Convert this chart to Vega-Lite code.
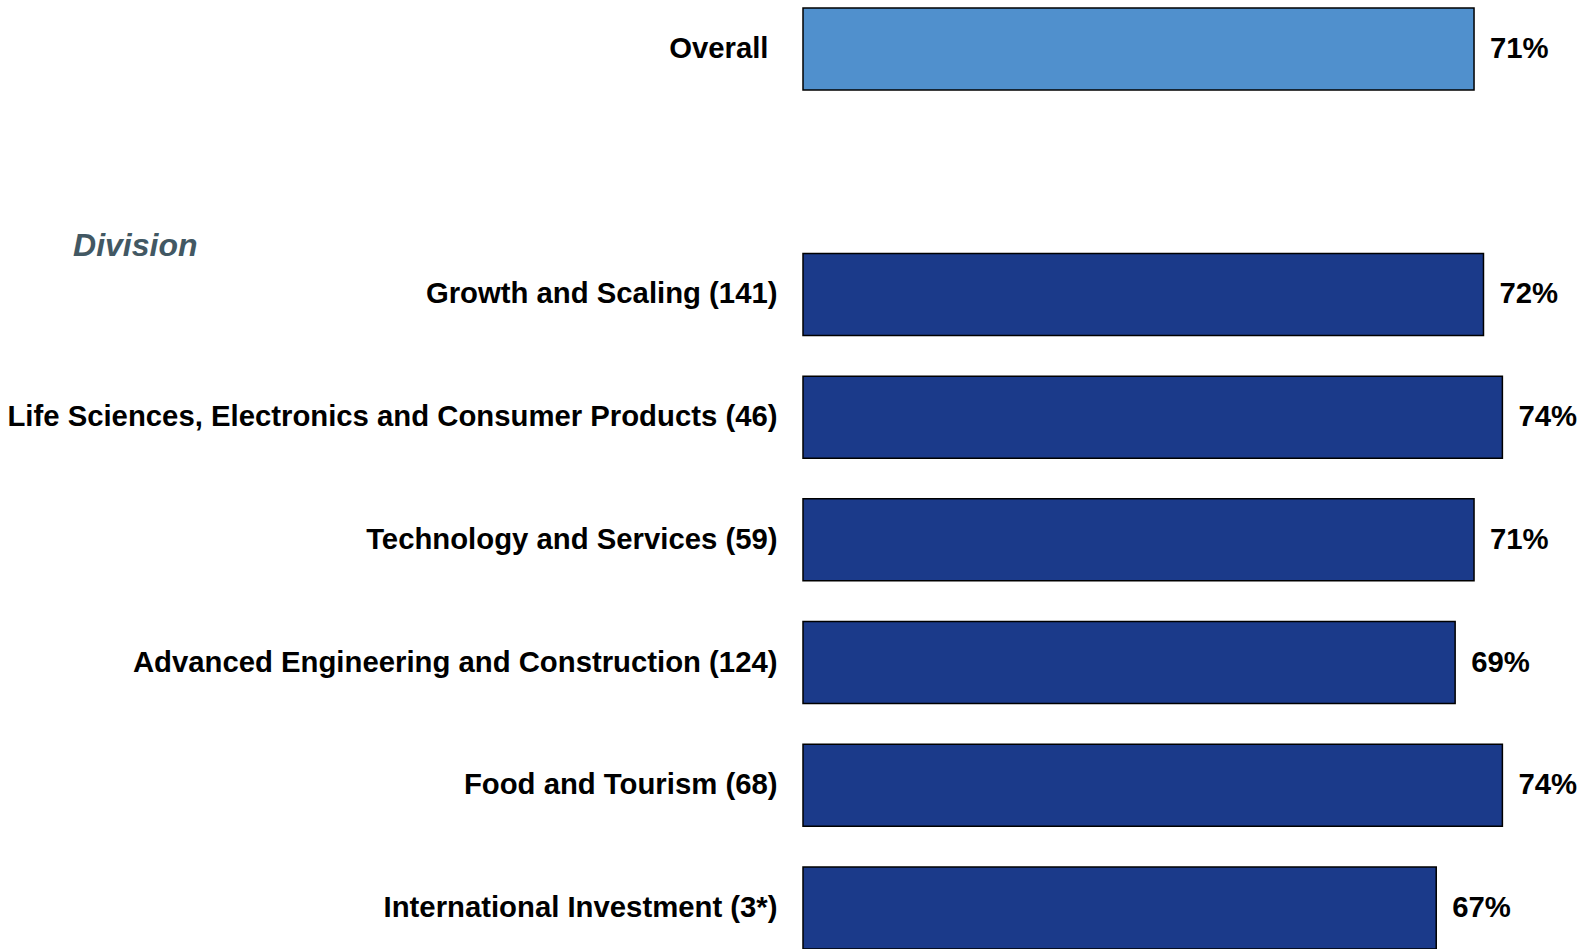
{
  "$schema": "https://vega.github.io/schema/vega-lite/v6.json",
  "autosize": "none",
  "padding": {"left": 803, "top": 1, "right": 0, "bottom": 0},
  "width": 775,
  "height": 955,
  "background": "white",
  "config": {"view": {"stroke": null}, "font": "Liberation Sans"},
  "data": {"values": [
    {"category": "Overall", "value": 0.71, "group": "overall"},
    {"category": "Division", "value": null, "group": "header"},
    {"category": "Growth and Scaling (141)", "value": 0.72, "group": "division"},
    {"category": "Life Sciences, Electronics and Consumer Products (46)", "value": 0.74, "group": "division"},
    {"category": "Technology and Services (59)", "value": 0.71, "group": "division"},
    {"category": "Advanced Engineering and Construction (124)", "value": 0.69, "group": "division"},
    {"category": "Food and Tourism (68)", "value": 0.74, "group": "division"},
    {"category": "International Investment (3*)", "value": 0.67, "group": "division"}
  ]},
  "encoding": {
    "y": {
      "field": "category", "type": "nominal",
      "sort": ["Overall", "Division", "Growth and Scaling (141)", "Life Sciences, Electronics and Consumer Products (46)", "Technology and Services (59)", "Advanced Engineering and Construction (124)", "Food and Tourism (68)", "International Investment (3*)"],
      "scale": {"paddingInner": 0.332, "paddingOuter": 0.057},
      "axis": {
        "title": null, "domain": false, "ticks": false, "grid": false,
        "labelLimit": 0,
        "labelFont": "Liberation Sans",
        "labelFontWeight": "bold",
        "labelColor": {"condition": {"test": "datum.value === 'Division'", "value": "#425863"}, "value": "#000000"},
        "labelFontStyle": {"condition": {"test": "datum.value === 'Division'", "value": "italic"}, "value": "normal"},
        "labelFontSize": {"condition": {"test": "datum.value === 'Division'", "value": 32}, "value": 29.3},
        "labelPadding": {"condition": [{"test": "datum.value === 'Division'", "value": 606}, {"test": "datum.value === 'Overall'", "value": 35}], "value": 26},
        "labelOffset": {"condition": {"test": "datum.value === 'Division'", "value": 74}, "value": 0}
      }
    },
    "x": {
      "field": "value", "type": "quantitative",
      "scale": {"domain": [0, 0.82], "nice": false, "zero": true},
      "axis": null
    }
  },
  "layer": [
    {
      "mark": {"type": "bar", "stroke": "#000000", "strokeWidth": 1.5},
      "encoding": {
        "color": {
          "field": "group", "type": "nominal",
          "scale": {"domain": ["overall", "division"], "range": ["#5090CD", "#1B3A8A"]},
          "legend": null
        }
      }
    },
    {
      "mark": {"type": "text", "align": "left", "baseline": "middle", "dx": 16, "fontSize": 29.3, "fontWeight": "bold", "font": "Liberation Sans", "color": "#000000"},
      "encoding": {
        "text": {"field": "value", "type": "quantitative", "format": ".0%"}
      }
    }
  ]
}
